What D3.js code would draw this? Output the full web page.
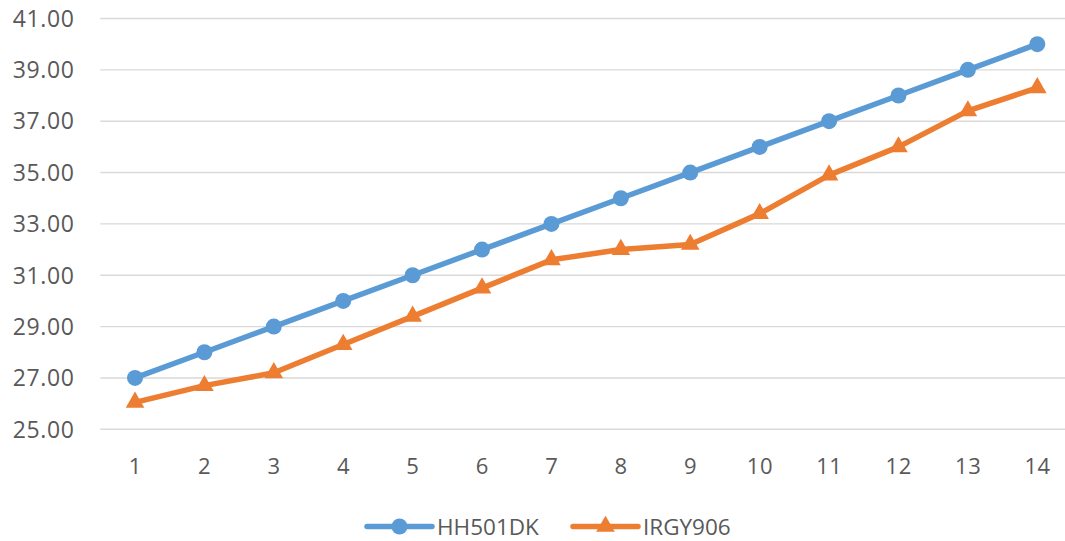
<!DOCTYPE html>
<html><head><meta charset="utf-8">
<script src="https://cdn.jsdelivr.net/npm/d3@7"></script>
<style>
html,body{margin:0;padding:0;background:#fff;}
svg{display:block;font-family:"Open Sans",sans-serif;}
</style></head>
<body>
<svg id="chart" width="1065" height="541"></svg>
<script>
const categories = ["1","2","3","4","5","6","7","8","9","10","11","12","13","14"];
const seriesNames = ["HH501DK","IRGY906"];
const hh501dk = [27,28,29,30,31,32,33,34,35,36,37,38,39,40];
const irgy906 = [26.05,26.7,27.2,28.3,29.4,30.5,31.6,32.0,32.2,33.4,34.9,36.0,37.4,38.3];
const yTicks = [25,27,29,31,33,35,37,39,41];
const colors = ["#5B9BD5","#ED7D31"];

const svg = d3.select("#chart");
const plotLeft = 100.3, plotRight = 1072, plotTop = 18.5, plotBottom = 429.3;

const x = d3.scaleBand().domain(categories).range([plotLeft, plotRight]);
const y = d3.scaleLinear().domain([25, 41]).range([plotBottom, plotTop]);
const cx = d => x(d) + x.bandwidth()/2;

// gridlines
svg.append("g").selectAll("line").data(yTicks).join("line")
  .attr("x1", plotLeft).attr("x2", plotRight)
  .attr("y1", d => y(d)).attr("y2", d => y(d))
  .attr("stroke", "#D9D9D9").attr("stroke-width", 1.4);

// y labels
svg.append("g").selectAll("text").data(yTicks).join("text")
  .attr("x", 74.5).attr("y", d => y(d)).attr("dy", "0.36em")
  .attr("text-anchor", "end")
  .attr("font-size", 23).attr("letter-spacing", "0.6px")
  .attr("fill", "#595959")
  .text(d => d.toFixed(2));

// x labels
svg.append("g").selectAll("text").data(categories).join("text")
  .attr("x", d => cx(d) + 0.3).attr("y", 473.5)
  .attr("text-anchor", "middle")
  .attr("font-size", 22).attr("letter-spacing", "0.6px")
  .attr("fill", "#595959")
  .text(d => d);

const line = d3.line().x((d,i) => cx(categories[i])).y(d => y(d));
const tri = d3.symbol().type(d3.symbolTriangle).size(150);

// orange series
svg.append("path").datum(irgy906).attr("d", line)
  .attr("fill", "none").attr("stroke", colors[1]).attr("stroke-width", 5.5)
  .attr("stroke-linejoin", "round").attr("stroke-linecap", "round");
svg.append("g").selectAll("path").data(irgy906).join("path")
  .attr("d", tri)
  .attr("transform", (d,i) => `translate(${cx(categories[i])},${y(d)})`)
  .attr("fill", colors[1]);

// blue series
svg.append("path").datum(hh501dk).attr("d", line)
  .attr("fill", "none").attr("stroke", colors[0]).attr("stroke-width", 5.5)
  .attr("stroke-linejoin", "round").attr("stroke-linecap", "round");
svg.append("g").selectAll("circle").data(hh501dk).join("circle")
  .attr("cx", (d,i) => cx(categories[i])).attr("cy", d => y(d)).attr("r", 8)
  .attr("fill", colors[0]);

// legend
const legendY = 526.5;
const legendItems = [
  {name: seriesNames[0], color: colors[0], x0: 367, type: "circle"},
  {name: seriesNames[1], color: colors[1], x0: 573, type: "tri"}
];
const lg = svg.append("g").selectAll("g").data(legendItems).join("g");
lg.append("line")
  .attr("x1", d => d.x0).attr("x2", d => d.x0 + 65)
  .attr("y1", legendY).attr("y2", legendY)
  .attr("stroke", d => d.color).attr("stroke-width", 5.5).attr("stroke-linecap", "round");
lg.filter(d => d.type === "circle").append("circle")
  .attr("cx", d => d.x0 + 32.5).attr("cy", legendY).attr("r", 8).attr("fill", d => d.color);
lg.filter(d => d.type === "tri").append("path")
  .attr("d", tri)
  .attr("transform", d => `translate(${d.x0 + 32.5},${legendY})`)
  .attr("fill", d => d.color);
lg.append("text")
  .attr("x", d => d.x0 + 70).attr("y", legendY).attr("dy", "0.36em")
  .attr("font-size", 22.5)
  .attr("fill", "#595959")
  .text(d => d.name);
</script>
</body></html>
